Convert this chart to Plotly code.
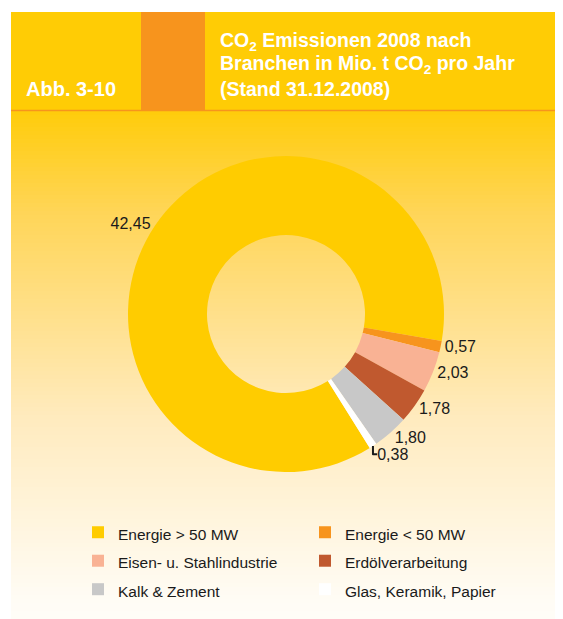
import plotly.graph_objects as go

# Daten: CO2 Emissionen 2008 nach Branchen (Mio. t CO2 pro Jahr)
branchen = ["Energie > 50 MW", "Energie < 50 MW", "Eisen- u. Stahlindustrie",
            "Erdölverarbeitung", "Kalk & Zement", "Glas, Keramik, Papier"]
emissionen = [42.45, 0.57, 2.03, 1.78, 1.80, 0.38]
farben = ["#FFCC00", "#F7941D", "#F9B294", "#C0592F", "#C8C8C8", "#FFFFFF"]

W, H = 563, 619
OFF = 8  # die Seite hat 8px Rand um die Grafik
FONT = "Liberation Sans, Arial, sans-serif"


def fx(x):
    return (x - OFF) / W


def fy(y):
    return 1 - (y - OFF) / H


def mix(c1, c2, t):
    return tuple(round(a + (b - a) * t) for a, b in zip(c1, c2))


# Verlauf im Hintergrund (von oben nach unten)
stops = [(111, (255, 204, 10)), (210, (255, 213, 86)), (420, (255, 235, 191)),
         (600, (255, 252, 245)), (640, (255, 254, 250))]


def grad(y):
    for (y0, c0), (y1, c1) in zip(stops[:-1], stops[1:]):
        if y <= y1:
            return mix(c0, c1, (y - y0) / (y1 - y0))
    return stops[-1][1]


shapes = []
step = 4
for y in range(111, 630, step):
    r, g, b = grad(y + step / 2)
    shapes.append(dict(type="rect", xref="paper", yref="paper",
                       x0=fx(11), x1=fx(561), y0=fy(y + step), y1=fy(y),
                       fillcolor=f"rgb({r},{g},{b})", line=dict(width=0), layer="below"))

# Kopfzeile
shapes.append(dict(type="rect", xref="paper", yref="paper", x0=fx(11), x1=fx(561),
                   y0=fy(111), y1=fy(12), fillcolor="#FFCC05", line=dict(width=0), layer="below"))
shapes.append(dict(type="rect", xref="paper", yref="paper", x0=fx(141), x1=fx(205),
                   y0=fy(111), y1=fy(12), fillcolor="#F7941D", line=dict(width=0), layer="below"))
shapes.append(dict(type="line", xref="paper", yref="paper", x0=fx(11), x1=fx(561),
                   y0=fy(110.5), y1=fy(110.5), line=dict(color="#F7941D", width=1.5), layer="below"))

legend_text = [f'<span style="font-size:15.5px">{b}</span>' for b in branchen]

fig = go.Figure(go.Pie(
    labels=legend_text,
    values=emissionen,
    marker=dict(colors=farben, line=dict(width=0)),
    hole=0.5,
    sort=False,
    direction="clockwise",
    rotation=148,
    textposition="outside",
    texttemplate="%{value:.2f}",
    textfont=dict(family=FONT, size=16, color="#1A1A1A"),
    domain=dict(x=[fx(128), fx(444)], y=[fy(472), fy(156)]),
))

titel = ["CO<sub>2</sub> Emissionen 2008 nach",
         "Branchen in Mio. t CO<sub>2</sub> pro Jahr",
         "(Stand 31.12.2008)"]
annotations = []
for i, t in enumerate(titel):
    annotations.append(dict(text=t, xref="paper", yref="paper", x=fx(218), y=fy(41 + 24 * i),
                            xanchor="left", yanchor="middle", showarrow=False,
                            font=dict(family=FONT, size=19.5, color="white", weight="bold")))
annotations.append(dict(text="Abb. 3-10", xref="paper", yref="paper", x=fx(24), y=fy(89),
                        xanchor="left", yanchor="middle", showarrow=False,
                        font=dict(family=FONT, size=20, color="white", weight="bold")))

fig.update_layout(
    width=W, height=H,
    margin=dict(l=0, r=0, t=0, b=0),
    paper_bgcolor="white",
    separators=",.",
    shapes=shapes,
    annotations=annotations,
    showlegend=True,
    legend=dict(orientation="h", x=fx(78), y=fy(513), xanchor="left", yanchor="top",
                entrywidth=182, font=dict(family=FONT, size=19.6, color="#1A1A1A"),
                bgcolor="rgba(0,0,0,0)", traceorder="normal"),
)

fig.write_html("out.html")
